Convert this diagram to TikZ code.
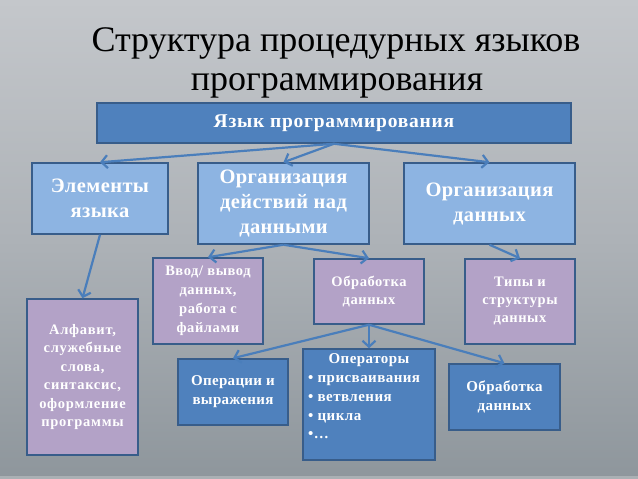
\documentclass[tikz,border=0pt]{standalone}
\usepackage{fontspec}
\setmainfont{Liberation Serif}
\usetikzlibrary{arrows.meta}
\definecolor{bgtop}{HTML}{C4C7CB}
\definecolor{bgmid}{HTML}{ADB2B7}
\definecolor{bgbot}{HTML}{8E969C}
\definecolor{acc}{HTML}{4F81BD}
\definecolor{accd}{HTML}{385D8A}
\definecolor{lblue}{HTML}{8DB4E2}
\definecolor{purp}{HTML}{B3A2C7}
\definecolor{arr}{HTML}{4A7EBB}
\newcommand\bxf[3]{\bfseries\fontsize{#1}{#2}\selectfont\addfontfeature{LetterSpace=#3}}
\tikzset{
  bx/.style={draw=accd, line width=1.5pt, inner sep=0pt, align=center, text=white},
  bxtop/.style={bx, fill=acc, font=\bxf{19.5}{23}{4}},
  bxlb/.style={bx, fill=lblue, font=\bxf{20.5}{25}{2}},
  bxpu/.style={bx, fill=purp, font=\bxf{14.5}{19}{4}},
  bxdk/.style={bx, fill=acc, font=\bxf{15}{19}{3}},
  opst/.style={inner sep=0pt, text=white, font=\bxf{15}{19}{3}},
  ttl/.style={inner sep=0pt, anchor=base, text=black, font=\fontsize{36}{38}\selectfont},
  ar/.style={draw=arr, line width=2.2pt, -{Straight Barb[length=6pt,width=13pt]}},
}
\begin{document}
\begin{tikzpicture}[x=1pt,y=-1pt]
\useasboundingbox (0,0) rectangle (638,479);
\shade[top color=bgtop, bottom color=bgbot, middle color=bgmid] (0,0) rectangle (638,479);
\fill[white, opacity=0.25] (0,476) rectangle (638,479);
% title
\node[ttl] (t1) at (336,52) {Структура процедурных языков};
\node[ttl] (t2) at (337,90) {программирования};
% boxes
\node[bxtop, minimum width=474, minimum height=40] (top) at (334,123) {Язык программирования};
\node[bxlb, minimum width=136, minimum height=71] (elem) at (100,198.5) {Элементы\\языка};
\node[bxlb, minimum width=171, minimum height=81] (orgact) at (283.5,203.5) {Организация\\действий над\\данными};
\node[bxlb, minimum width=171, minimum height=81] (orgdat) at (489.5,203.5) {Организация\\данных};
\node[bxpu, minimum width=110, minimum height=86] (vvod) at (208,301) {Ввод/ вывод\\данных,\\работа с\\файлами};
\node[bxpu, minimum width=110, minimum height=65, font=\bxf{14.5}{18}{4}] (obr) at (369,291.5) {Обработка\\данных};
\node[bxpu, minimum width=110, minimum height=85, font=\bxf{14.5}{18}{4}] (tipy) at (520,301.5) {Типы и\\структуры\\данных};
\node[bxpu, minimum width=111, minimum height=156, font=\bxf{14.5}{18.5}{5}] (alf) at (82.5,377) {Алфавит,\\служебные\\слова,\\синтаксис,\\оформление\\программы};
\node[bxdk, minimum width=110, minimum height=66, font=\bxf{15}{19}{2}] (oper) at (233,392) {Операции и\\выражения};
\node[bxdk, minimum width=132, minimum height=111] (ops) at (369,404.5) {};
\node[bxdk, minimum width=111, minimum height=66] (obr2) at (504.5,397) {Обработка\\данных};
\node[opst, anchor=base] (opsh) at (369,363) {Операторы};
\node[opst, anchor=base west] (ops1) at (308,382) {• присваивания};
\node[opst, anchor=base west] (ops2) at (308,401) {• ветвления};
\node[opst, anchor=base west] (ops3) at (308,420) {• цикла};
\node[opst, anchor=base west] (ops4) at (308,438) {•…};
% arrows
\draw[ar] (top.south) -- (elem.north);
\draw[ar] (top.south) -- (orgact.north);
\draw[ar] (top.south) -- (orgdat.north);
\draw[ar] (elem.south) -- (alf.north);
\draw[ar] (orgact.south) -- (vvod.north);
\draw[ar] (orgact.south) -- (obr.north);
\draw[ar] (orgdat.south) -- (tipy.north);
\draw[ar] (obr.south) -- (oper.north);
\draw[ar] (obr.south) -- (ops.north);
\draw[ar] (obr.south) -- (obr2.north);
\end{tikzpicture}
\end{document}
